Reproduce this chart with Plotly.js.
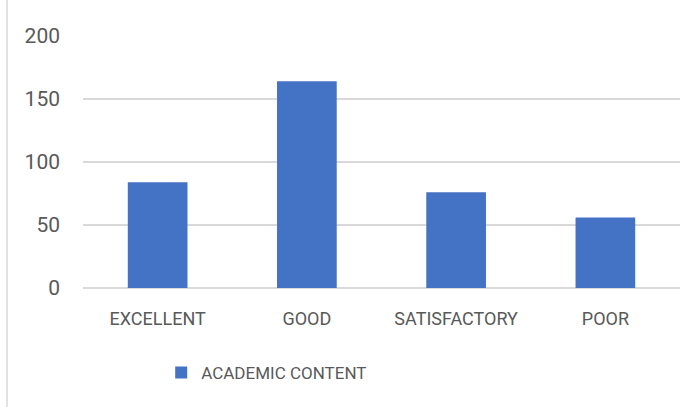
<!DOCTYPE html>
<html><head><meta charset="utf-8">
<script src="https://cdn.plot.ly/plotly-3.0.1.min.js"></script>
<style>html,body{margin:0;padding:0;background:#fff;}#chart{width:698px;height:407px;}</style>
</head><body><div id="chart"></div>
<script>
const categories = ["EXCELLENT", "GOOD", "SATISFACTORY", "POOR"];
const academicContent = [84, 164, 76, 56];
const seriesName = "ACADEMIC CONTENT";
const yTicks = [0, 50, 100, 150, 200];

const trace = {
  type: "bar", x: categories, y: academicContent, name: seriesName,
  marker: {color: "#4472C4"}, showlegend: true, hoverinfo: "x+y"
};
const layout = {
  width: 698, height: 407,
  margin: {l: 83, r: 18, t: 36, b: 119},
  paper_bgcolor: "#fff", plot_bgcolor: "#fff",
  bargap: 0.6,
  font: {family: "Roboto, sans-serif", color: "#595959", size: 18},
  xaxis: {
    type: "category", showgrid: false, zeroline: false, showline: false,
    ticks: "", tickfont: {family: "Roboto, sans-serif", size: 18, color: "#595959"},
    ticklabelstandoff: 18
  },
  yaxis: {
    range: [0, 200], tickvals: yTicks, showgrid: true, gridcolor: "#d9d9d9", gridwidth: 1.5,
    zeroline: true, zerolinecolor: "#d9d9d9", zerolinewidth: 1.5, showline: false, ticks: "",
    tickfont: {family: "Roboto, sans-serif", size: 21, color: "#595959"},
    ticklabelstandoff: 22
  },
  legend: {orientation: "h", x: 0.131, xanchor: "left", y: -0.337, yanchor: "middle",
    font: {family: "Roboto, sans-serif", size: 17, color: "#595959"}},
  shapes: [{type: "line", xref: "paper", yref: "paper", x0: -0.1273, x1: -0.1273, y0: -0.472, y1: 1.143,
    line: {color: "#d9d9d9", width: 1.5}}]
};
Plotly.newPlot("chart", [trace], layout, {displayModeBar: false, staticPlot: true});
</script></body></html>
